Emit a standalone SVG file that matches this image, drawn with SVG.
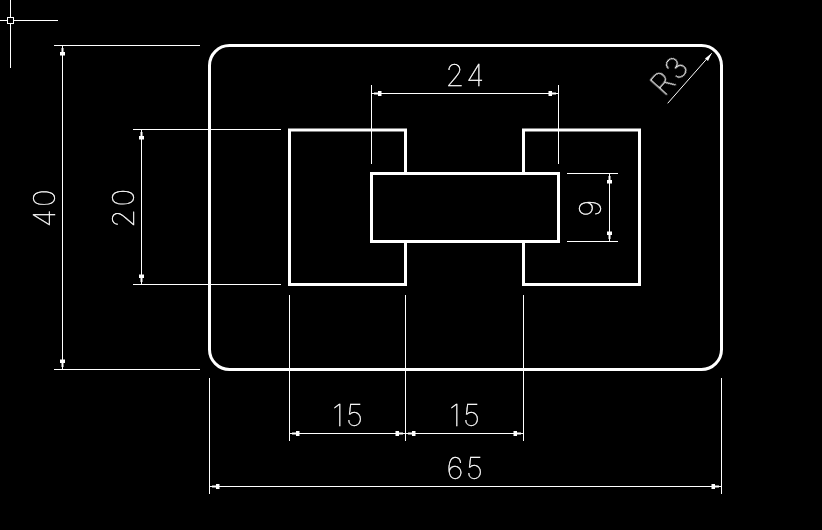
<svg xmlns="http://www.w3.org/2000/svg" width="822" height="530" viewBox="0 0 822 530">
<style>
.obj{fill:none;stroke:#fff;stroke-width:3}
.thin{fill:none;stroke:#fff;stroke-width:1;shape-rendering:crispEdges}
.dim{fill:none;stroke:#fff;stroke-width:1;shape-rendering:crispEdges;marker-start:url(#tick);marker-end:url(#tick)}
text{font-family:"Inter","Liberation Sans",sans-serif;font-weight:100;font-size:30px;fill:#fff;stroke:#fff;stroke-width:.35px;letter-spacing:2.5px;text-anchor:middle}
</style>
<defs>
<filter id="gray" x="0" y="0" width="1" height="1" filterUnits="objectBoundingBox"><feOffset dx="0" dy="0"/></filter>
<marker id="tick" viewBox="-10 -3 10 6" refX="0" refY="0" markerWidth="10" markerHeight="6" markerUnits="userSpaceOnUse" orient="auto-start-reverse">
<path d="M-2,-1 L-6,-1 L-6,-2.5 L-9.500,-2.500 L-9.500,2.500 L-6,2.500 L-6,1 L-2,1 Z" fill="#fff"/>
</marker>
</defs>
<rect width="822" height="530" fill="#000"/>
<g id="crosshair" class="thin">
<path d="M10.5,0V68M0,20.5H58"/>
<rect x="7.5" y="17.5" width="6" height="6" fill="#000"/>
</g>
<g id="plate"><rect class="obj" x="209.500" y="45.500" width="512" height="324" rx="20" ry="20"/></g>
<g id="left-pocket"><path class="obj" d="M405.500,173V130H289.500V284.500H405.500V241"/></g>
<g id="right-pocket"><path class="obj" d="M523.500,173V130H639.500V284.500H523.500V241"/></g>
<g id="slot"><rect class="obj" x="371.500" y="173.500" width="187" height="68"/></g>
<g id="connectors">
<path class="thin" d="M54,45.500H200M54,369.500H200M133,129.500H281M133,284.500H281"/>
<path class="thin" d="M289.500,295V441M405.500,295V441M523.500,295V441M209.500,378V494M721.500,378V494"/>
<path class="thin" d="M371.500,85V164M558.500,85V164M567,173.500H618M567,241.500H618"/>
<line class="dim" x1="62.500" y1="46" x2="62.500" y2="369"/>
<line class="dim" x1="141.500" y1="130" x2="141.500" y2="284"/>
<line class="dim" x1="290" y1="433.500" x2="405" y2="433.500"/>
<line class="dim" x1="406" y1="433.500" x2="523" y2="433.500"/>
<line class="dim" x1="210" y1="486.500" x2="721" y2="486.500"/>
<line class="dim" x1="372" y1="93.500" x2="558" y2="93.500"/>
<line class="dim" x1="609.500" y1="174" x2="609.500" y2="241"/>
<path d="M667.700,103.300L711.700,53.300" fill="none" stroke="#fff"/>
<path d="M711.700,53.300L705,58.500L708,61Z" fill="#fff"/>
</g>
<g id="labels" filter="url(#gray)">
<text x="349" y="426">15</text>
<text x="466" y="426">15</text>
<text x="466" y="479">65</text>
<text x="466" y="86">24</text>
<text transform="translate(55 207) rotate(-90)">40</text>
<text transform="translate(134 207) rotate(-90)">20</text>
<text transform="translate(601 207) rotate(-90)">9</text>
<text transform="translate(678 82) rotate(-48)">R3</text>
</g>
</svg>
